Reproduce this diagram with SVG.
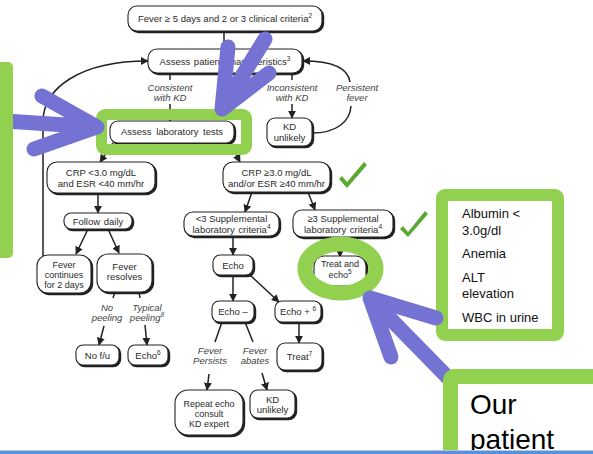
<svg xmlns="http://www.w3.org/2000/svg" width="593" height="454" viewBox="0 0 593 454">
<style>
.shd{fill:#222;stroke:#222;stroke-width:1.4}
.box{fill:#fff;stroke:#222;stroke-width:1.1}
text{font-family:"Liberation Sans",Arial,sans-serif;font-size:9.5px;fill:#2a2a2a;text-anchor:middle}
.it{font-style:italic;fill:#444}
.sm{font-size:9px}
.sup{font-size:6.5px}
.ln{fill:none;stroke:#222;stroke-width:1.5}
.ar{fill:none;stroke:#222;stroke-width:1.5;marker-end:url(#ah)}
.pur{fill:none;stroke:#7473d3;stroke-width:15;stroke-linecap:round;stroke-linejoin:round}
.grn{fill:none;stroke:#92d050}
.side{font-size:13px;fill:#111;text-anchor:start}
</style>
<defs>
<marker id="ah" markerUnits="userSpaceOnUse" markerWidth="8" markerHeight="8" viewBox="0 0 10 10" refX="9" refY="5" orient="auto">
<path d="M0,0 L10,5 L0,10 Z" fill="#222"/>
</marker>
</defs>
<rect width="593" height="454" fill="#fff"/>

<g id="connectors">
<line class="ln" x1="224" y1="31" x2="224" y2="49"/>
<line class="ln" x1="170" y1="73" x2="170" y2="80"/>
<line class="ar" x1="170" y1="104" x2="170" y2="121"/>
<line class="ln" x1="292" y1="73" x2="292" y2="80"/>
<line class="ar" x1="292" y1="104" x2="292" y2="118"/>
<path class="ln" d="M312,133 C336,133 350,122 351,106"/>
<path class="ar" d="M350,82 C348,68 332,61 303,61"/>
<path class="ar" d="M43,256 L43,122 C43,88 80,61 148,61"/>
<line class="ar" x1="113" y1="143" x2="100" y2="162"/>
<line class="ar" x1="230" y1="143" x2="240" y2="162"/>
<line class="ar" x1="98" y1="193" x2="98" y2="213"/>
<line class="ar" x1="88" y1="229" x2="76" y2="254"/>
<line class="ar" x1="108" y1="229" x2="119" y2="253"/>
<line class="ln" x1="115" y1="292" x2="113" y2="298"/>
<line class="ar" x1="104" y1="326" x2="99" y2="345"/>
<line class="ln" x1="139" y1="292" x2="140" y2="298"/>
<line class="ar" x1="145" y1="325" x2="147" y2="345"/>
<line class="ar" x1="252" y1="192" x2="245" y2="212"/>
<line class="ar" x1="308" y1="192" x2="315" y2="210"/>
<line class="ar" x1="340" y1="237" x2="340" y2="257"/>
<line class="ar" x1="233" y1="236" x2="233" y2="255"/>
<line class="ar" x1="233" y1="275" x2="233" y2="301"/>
<line class="ar" x1="250" y1="275" x2="279" y2="302"/>
<line class="ln" x1="222" y1="322" x2="215" y2="342"/>
<line class="ar" x1="209" y1="374" x2="207" y2="390"/>
<line class="ln" x1="245" y1="322" x2="253" y2="342"/>
<line class="ar" x1="262" y1="373" x2="267" y2="390"/>
<line class="ar" x1="299" y1="322" x2="299" y2="343"/>
</g>

<g id="labels">
<text class="it" x="170" y="91">Consistent</text>
<text class="it" x="170" y="101">with KD</text>
<text class="it" x="292" y="91">Inconsistent</text>
<text class="it" x="292" y="101">with KD</text>
<text class="it" x="357" y="91">Persistent</text>
<text class="it" x="357" y="101">fever</text>
<text class="it" x="107" y="311">No</text>
<text class="it" x="107" y="321">peeling</text>
<text class="it" x="147" y="311">Typical</text>
<text class="it" x="147" y="321">peeling<tspan class="sup" dy="-4">8</tspan></text>
<text class="it" x="210" y="354">Fever</text>
<text class="it" x="210" y="364">Persists</text>
<text class="it" x="255" y="354">Fever</text>
<text class="it" x="255" y="364">abates</text>
</g>

<g id="n-top"><rect class="shd" x="129.5" y="7.5" width="194" height="25" rx="9"/><rect class="box" x="128" y="6" width="194" height="25" rx="9"/><text x="225" y="22">Fever ≥ 5 days and 2 or 3 clinical criteria<tspan class="sup" dy="-4">2</tspan></text></g>
<g id="n-assess"><rect class="shd" x="149.5" y="50.5" width="154" height="24" rx="9"/><rect class="box" x="148" y="49" width="154" height="24" rx="9"/><text x="225" y="65" word-spacing="1">Assess patient characteristics<tspan class="sup" dy="-4">3</tspan></text></g>
<g id="n-lab"><rect class="shd" x="111.5" y="122.5" width="124" height="22" rx="8"/><rect class="box" x="110" y="121" width="124" height="22" rx="8"/><text x="172" y="135" word-spacing="2">Assess laboratory tests</text></g>
<g id="n-kd1"><rect class="shd" x="268.5" y="119.5" width="45" height="28" rx="8"/><rect class="box" x="267" y="118" width="45" height="28" rx="8"/><text x="289.5" y="130">KD</text><text x="289.5" y="141">unlikely</text></g>
<g id="n-crplow"><rect class="shd" x="48.5" y="163.5" width="108" height="31" rx="10"/><rect class="box" x="47" y="162" width="108" height="31" rx="10"/><text x="101" y="176">CRP &lt;3.0 mg/dL</text><text x="101" y="187">and ESR &lt;40 mm/hr</text></g>
<g id="n-crphigh"><rect class="shd" x="224.5" y="163.5" width="107" height="30" rx="10"/><rect class="box" x="223" y="162" width="107" height="30" rx="10"/><text x="276.5" y="176">CRP ≥3.0 mg/dL</text><text x="276.5" y="187">and/or ESR ≥40 mm/hr</text></g>
<g id="n-follow"><rect class="shd" x="65.5" y="214.5" width="68" height="16" rx="7"/><rect class="box" x="64" y="213" width="68" height="16" rx="7"/><text x="98" y="224.5" word-spacing="1">Follow daily</text></g>
<g id="n-supp-lt"><rect class="shd" x="185.5" y="213.5" width="95" height="24" rx="9"/><rect class="box" x="184" y="212" width="95" height="24" rx="9"/><text x="231.5" y="222">&lt;3 Supplemental</text><text x="231.5" y="232.5" word-spacing="1">laboratory criteria<tspan class="sup" dy="-4">4</tspan></text></g>
<g id="n-supp-ge"><rect class="shd" x="294.5" y="211.5" width="100" height="27" rx="9"/><rect class="box" x="293" y="210" width="100" height="27" rx="9"/><text x="343" y="222">≥3 Supplemental</text><text x="343" y="232.5" word-spacing="1">laboratory criteria<tspan class="sup" dy="-4">4</tspan></text></g>
<g id="n-cont"><rect class="shd" x="38.5" y="256.5" width="54" height="38" rx="11"/><rect class="box" x="37" y="255" width="54" height="38" rx="11"/><text class="sm" x="64" y="267.5">Fever</text><text class="sm" x="64" y="277.5">continues</text><text class="sm" x="64" y="287.5">for 2 days</text></g>
<g id="n-resolves"><rect class="shd" x="98.5" y="255.5" width="55" height="38" rx="11"/><rect class="box" x="97" y="254" width="55" height="38" rx="11"/><text x="124.5" y="269.5">Fever</text><text x="124.5" y="280">resolves</text></g>
<g id="n-echo"><rect class="shd" x="214.5" y="256.5" width="40" height="20" rx="7"/><rect class="box" x="213" y="255" width="40" height="20" rx="7"/><text x="233" y="268.5">Echo</text></g>
<g id="n-treatecho"><rect class="shd" x="315.5" y="257.5" width="52" height="30" rx="10"/><rect class="box" x="314" y="256" width="52" height="30" rx="10"/><text class="sm" x="340" y="267">Treat and</text><text class="sm" x="340" y="278">echo<tspan class="sup" dy="-4">5</tspan></text></g>
<g id="n-nofu"><rect class="shd" x="77.5" y="346.5" width="43" height="20" rx="7"/><rect class="box" x="76" y="345" width="43" height="20" rx="7"/><text x="97.5" y="358.5">No f/u</text></g>
<g id="n-echo6"><rect class="shd" x="129.5" y="346.5" width="40" height="20" rx="7"/><rect class="box" x="128" y="345" width="40" height="20" rx="7"/><text x="148" y="358.5">Echo<tspan class="sup" dy="-4">6</tspan></text></g>
<g id="n-echominus"><rect class="shd" x="213.5" y="302.5" width="42" height="21" rx="7"/><rect class="box" x="212" y="301" width="42" height="21" rx="7"/><text x="233" y="315">Echo –</text></g>
<g id="n-echoplus"><rect class="shd" x="276.5" y="302.5" width="46" height="21" rx="7"/><rect class="box" x="275" y="301" width="46" height="21" rx="7"/><text x="298" y="315">Echo + <tspan class="sup" dy="-4">6</tspan></text></g>
<g id="n-treat"><rect class="shd" x="278.5" y="344.5" width="45" height="27" rx="8"/><rect class="box" x="277" y="343" width="45" height="27" rx="8"/><text x="299.5" y="360">Treat<tspan class="sup" dy="-4">7</tspan></text></g>
<g id="n-repeat"><rect class="shd" x="176.5" y="391.5" width="68" height="45" rx="13"/><rect class="box" x="175" y="390" width="68" height="45" rx="13"/><text class="sm" x="209" y="406.5">Repeat echo</text><text class="sm" x="209" y="416.5">consult</text><text class="sm" x="209" y="426.5">KD expert</text></g>
<g id="n-kd2"><rect class="shd" x="251.5" y="391.5" width="45" height="28" rx="8"/><rect class="box" x="250" y="390" width="45" height="28" rx="8"/><text x="272.5" y="402.5">KD</text><text x="272.5" y="413">unlikely</text></g>

<g id="checks" fill="#5aa832">
<path d="M339,179 L342,176 L347,182 L364,162 L367,165 L347,188 Z"/>
<path d="M400,229 L403,226 L408,232 L425,211 L428,214 L408,237 Z"/>
</g>

<g id="highlight-lab"><rect class="grn" x="101.5" y="114.5" width="145" height="35" rx="4" stroke-width="11"/></g>
<g id="highlight-ring"><ellipse class="grn" cx="340.5" cy="268.5" rx="35.5" ry="24.5" stroke-width="15"/></g>

<g id="arrow-left"><path class="pur" d="M5,121 L97,127 M42,96 L97,127 L34,149"/></g>
<g id="left-box"><rect x="-20" y="62" width="33" height="196" rx="5" fill="#92d050"/></g>
<g id="arrow-top"><path class="pur" d="M265,39 L222,109 M228,47 L222,109 L269,73"/></g>

<g id="criteria-box">
<rect x="442" y="195" width="116" height="140" rx="3" fill="#fff" stroke="#92d050" stroke-width="12"/>
<text class="side" x="462" y="218">Albumin &lt;</text>
<text class="side" x="462" y="235">3.0g/dl</text>
<text class="side" x="462" y="258">Anemia</text>
<text class="side" x="462" y="282">ALT</text>
<text class="side" x="462" y="298">elevation</text>
<text class="side" x="462" y="322">WBC in urine</text>
</g>
<g id="arrow-bottom"><path class="pur" d="M462,392 L370,298 M436,318 L370,298 L391,357"/></g>
<g id="patient-box">
<rect x="450.5" y="376.5" width="160" height="110" rx="4" fill="#fff" stroke="#92d050" stroke-width="15"/>
<text x="470" y="414" style="font-size:28px;fill:#000;text-anchor:start">Our</text>
<text x="470" y="449" style="font-size:28px;fill:#000;text-anchor:start">patient</text>
</g>
<g id="footer"><rect x="0" y="450" width="593" height="1" fill="#b0c8ec"/><rect x="0" y="451" width="593" height="3" fill="#5b8fd9"/></g>
</svg>
